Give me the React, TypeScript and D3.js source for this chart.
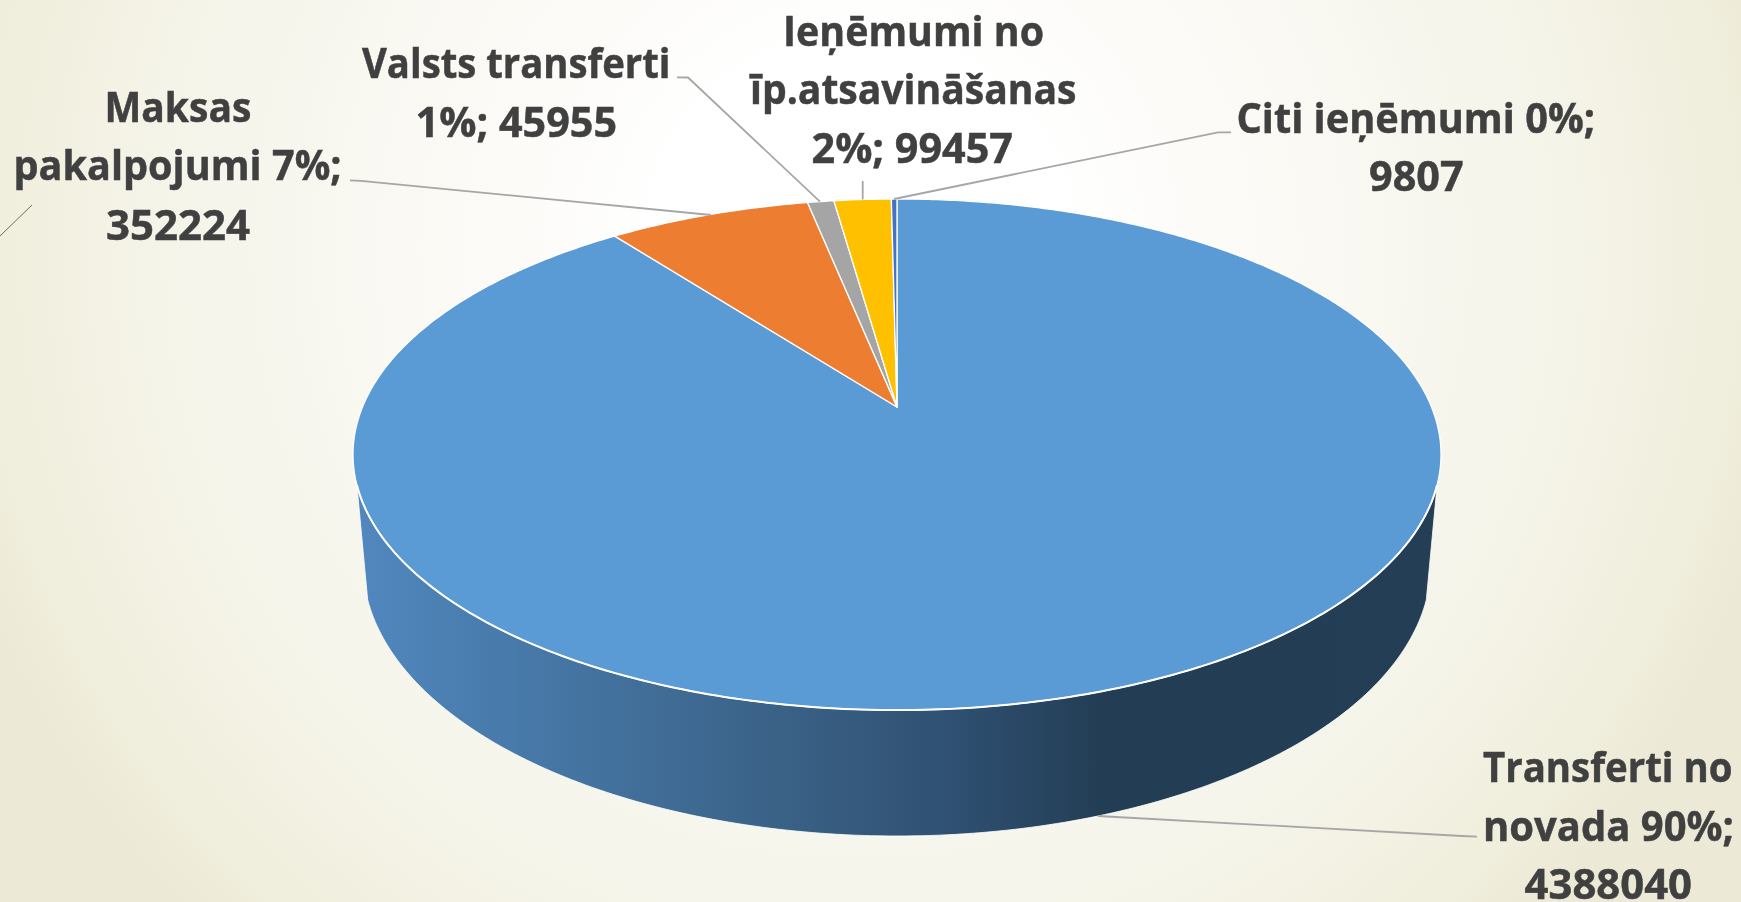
import React from 'react';
import * as d3 from 'd3';

const categories = ['Transferti no novada', 'Maksas pakalpojumi', 'Valsts transferti', 'Ieņēmumi no īp.atsavināšanas', 'Citi ieņēmumi'];
const seriesValues = [4388040, 352224, 45955, 99457, 9807];
const sliceColors = ['#5b9bd5', '#ed7d31', '#a5a5a5', '#ffc000', '#4472c4'];

const labelLines = [
  { t: 'Transferti no', x0: 1483, x1: 1732.5, y: 781.5 },
  { t: 'novada 90%;', x0: 1483, x1: 1734, y: 840.5 },
  { t: '4388040', x0: 1524.6, x1: 1692, y: 899 },
  { t: 'Maksas', x0: 104.5, x1: 251.4, y: 121.7 },
  { t: 'pakalpojumi 7%;', x0: 13.5, x1: 341.6, y: 180 },
  { t: '352224', x0: 106, x1: 250, y: 240 },
  { t: 'Valsts transferti', x0: 362, x1: 670.5, y: 77.7 },
  { t: '1%; 45955', x0: 415.6, x1: 617, y: 136.7 },
  { t: 'Ieņēmumi no', x0: 783, x1: 1044, y: 46 },
  { t: 'īp.atsavināšanas', x0: 750, x1: 1076.5, y: 104 },
  { t: '2%; 99457', x0: 811.5, x1: 1013, y: 163 },
  { t: 'Citi ieņēmumi 0%;', x0: 1236.5, x1: 1595, y: 132.7 },
  { t: '9807', x0: 1369, x1: 1463.6, y: 190.7 },
];

const leaders: [number, number][][] = [
  [[1477, 836.7], [1462, 836], [1098, 816]],
  [[350, 180.3], [361, 180.8], [711, 215]],
  [[677, 77.3], [688, 77.5], [820, 201.7]],
  [[862.7, 181], [862.7, 199.5]],
  [[1231, 132.3], [1218, 132.3], [894, 199]],
];

// Perspective projection of the pie's unit circle onto the picture
const W = 1741, H = 902;
const apexX = 897, apexY = 407;
const k = 0.186, a = 534.5, b = 246.7;
const project = (angle: number): [number, number] => {
  const x = Math.sin(angle), y = Math.cos(angle);
  const w = 1 + k * y;
  return [apexX + (a * x) / w, apexY - (b * y) / w];
};

const pie = d3.pie<number>().sort(null)(seriesValues);
const line = d3.line();
const slicePath = (s0: number, s1: number) => {
  const n = Math.max(2, Math.ceil((s1 - s0) / 0.01));
  const pts = d3.range(n + 1).map((i) => project(s0 + ((s1 - s0) * i) / n));
  return line([[apexX, apexY], ...pts]) + 'Z';
};

// Side wall: front of the top rim, straight sides, then a lower rim
const lowCx = 897, lowCy = 564, lowRx = 534, lowRy = 272;
const rimCy = apexY + (b * k) / (1 - k * k);
const rimRy = (b / (1 + k) + b / (1 - k)) / 2;
const rimRx = a / Math.sqrt(1 - k * k);
const tLow = Math.asin(36 / lowRy);
const lowerRim = d3.range(181).map((i): [number, number] => {
  const t = tLow + ((Math.PI - 2 * tLow) * i) / 180;
  return [lowCx + lowRx * Math.cos(t), lowCy + lowRy * Math.sin(t)];
});
const tStart = Math.asin((485 - rimCy) / rimRy);
const upperRim = d3.range(181).map((i): [number, number] => {
  const t = tStart + ((Math.PI - 2 * tStart) * i) / 180;
  return [apexX + rimRx * Math.cos(t), rimCy + rimRy * Math.sin(t)];
});
const wallPath = () => line([...lowerRim, ...upperRim.slice().reverse()]) + 'Z';

export default function App() {
  return (
    <svg width={W} height={H} viewBox={`0 0 ${W} ${H}`} style={{ position: 'fixed', left: 0, top: 0, display: 'block' }}>
      <defs>
        <radialGradient id="bg" gradientUnits="userSpaceOnUse" cx={0} cy={0} r={1}
          gradientTransform="translate(860 250) scale(1000 1000)">
          <stop offset="0.2" stopColor="#ffffff" />
          <stop offset="0.35" stopColor="#fcfbf8" />
          <stop offset="0.7" stopColor="#f5f4e9" />
          <stop offset="0.87" stopColor="#f0eedc" />
          <stop offset="0.95" stopColor="#ecead6" />
          <stop offset="1" stopColor="#ecead6" />
        </radialGradient>
        <linearGradient id="wall" gradientUnits="userSpaceOnUse" x1={355} y1={0} x2={1441} y2={0}>
          <stop offset="0" stopColor="#5288bf" />
          <stop offset="0.1" stopColor="#4a7eb0" />
          <stop offset="0.394" stopColor="#3a6186" />
          <stop offset="0.55" stopColor="#2f5072" />
          <stop offset="0.69" stopColor="#233d54" />
          <stop offset="1" stopColor="#243e55" />
        </linearGradient>
      </defs>
      <rect x={0} y={0} width={W} height={H} fill="url(#bg)" />
      <line x1={0} y1={236} x2={32} y2={205} stroke="#6d7055" strokeWidth={1} />
      <path d={wallPath()} fill="url(#wall)" stroke="#ffffff" strokeWidth={0.8} strokeLinejoin="round" />
      {pie.map((s, i) => (
        <path key={categories[i]} d={slicePath(s.startAngle, s.endAngle)} fill={sliceColors[i]} stroke="#ffffff" strokeWidth={1.3} strokeLinejoin="round" />
      ))}
      <path d={line(upperRim) as string} fill="none" stroke="#ffffff" strokeWidth={2} />
      {leaders.map((pts, i) => (
        <path key={i} d={line(pts) as string} fill="none" stroke="#a6a6a6" strokeWidth={1.8} />
      ))}
      {labelLines.map((l) => (
        <text key={l.t} x={l.x0} y={l.y} textLength={l.x1 - l.x0} lengthAdjust="spacingAndGlyphs"
          fontFamily="'Open Sans', Lato, sans-serif" fontWeight={700} fontSize={42} fill="#404040"
          stroke="#404040" strokeWidth={0.5}
          style={{ fontVariantLigatures: 'none' }}>
          {l.t}
        </text>
      ))}
    </svg>
  );
}
